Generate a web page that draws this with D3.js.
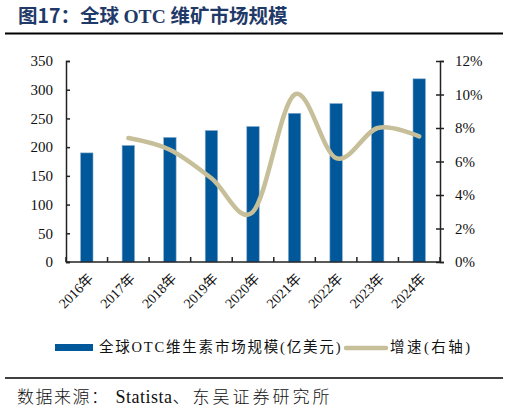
<!DOCTYPE html>
<html>
<head>
<meta charset="utf-8">
<script src="https://cdn.jsdelivr.net/npm/d3@7"></script>
<style>
  body { margin: 0; background: #fff; }
  svg text { font-family: "Liberation Serif", "Times New Roman", "Noto Sans CJK SC", serif; }
</style>
</head>
<body>
<div id="chart"></div>
<script>
// data
const years = ['2016年', '2017年', '2018年', '2019年', '2020年', '2021年', '2022年', '2023年', '2024年'];
const marketSize = [190, 203, 217, 229, 236, 259, 276, 297, 319];
const growth = [null, 7.4, 6.7, 5.0, 3.0, 10.0, 6.2, 8.0, 7.5];
const leftTicks = [0, 50, 100, 150, 200, 250, 300, 350];
const rightTicks = [0, 2, 4, 6, 8, 10, 12];

function renderChart(containerId) {
    const container = d3.select(`#${containerId}`);
    container.selectAll('*').remove();

    const W = 509, H = 412;
    const margin = { top: 61, right: 69, bottom: 150, left: 66 };
    const width = W - margin.left - margin.right;
    const height = H - margin.top - margin.bottom;

    const svg = container.append('svg')
        .attr('width', W)
        .attr('height', H);

    // Title + rules
    const title = svg.append('text')
        .attr('x', 18)
        .attr('y', 23)
        .attr('fill', '#1F3A68')
        .style('font-size', '19.5px')
        .style('font-weight', 'bold');
    title.append('tspan').text('图17：').style('font-family', '"Noto Sans CJK SC", sans-serif');
    title.append('tspan').text('全球 ').style('font-family', '"Noto Sans CJK SC", sans-serif');
    title.append('tspan').text('OTC ').style('font-family', '"Liberation Serif", serif');
    title.append('tspan').text('维矿市场规模').style('font-family', '"Noto Sans CJK SC", sans-serif');

    svg.append('line')
        .attr('x1', 5).attr('x2', 503)
        .attr('y1', 33.5).attr('y2', 33.5)
        .attr('stroke', '#000').attr('stroke-width', 2);
    svg.append('line')
        .attr('x1', 5).attr('x2', 503)
        .attr('y1', 378).attr('y2', 378)
        .attr('stroke', '#000').attr('stroke-width', 1.5);

    const src = svg.append('text')
        .attr('x', 17)
        .attr('y', 403)
        .style('font-size', '17px')
        .attr('fill', '#111');
    src.append('tspan').text('数据来源：').style('font-family', '"Noto Sans CJK SC", sans-serif')
        .style('font-weight', '300').style('letter-spacing', '1.5px');
    src.append('tspan').text('Statista').attr('dx', 6).style('font-family', '"Liberation Serif", serif')
        .style('font-size', '18px').style('letter-spacing', '0.5px');
    src.append('tspan').text('、东吴证券研究所').style('font-family', '"Noto Sans CJK SC", sans-serif')
        .style('font-weight', '300').style('letter-spacing', '3px');

    const g = svg.append('g')
        .attr('transform', `translate(${margin.left},${margin.top})`);

    const x = d3.scaleBand()
        .domain(years)
        .range([0, width])
        .paddingInner(0.7)
        .paddingOuter(0.35);

    const y = d3.scaleLinear().domain([0, 350]).range([height, 0]);
    const y2 = d3.scaleLinear().domain([0, 12]).range([height, 0]);

    // Bars
    g.selectAll('.bar')
        .data(marketSize)
        .enter()
        .append('rect')
        .attr('class', 'bar')
        .attr('x', (d, i) => x(years[i]))
        .attr('y', d => y(d))
        .attr('width', x.bandwidth())
        .attr('height', d => height - y(d))
        .attr('fill', '#00589B')
        .attr('stroke', '#8FB0CF')
        .attr('stroke-width', 0.6);

    // Left axis
    const leftAxis = g.append('g')
        .call(d3.axisLeft(y).tickValues(leftTicks).tickSize(-4).tickPadding(13));
    leftAxis.select('.domain').attr('stroke', '#222').attr('stroke-width', 1.5);
    leftAxis.selectAll('.tick line').attr('stroke', '#222').attr('stroke-width', 1.5);
    leftAxis.selectAll('text').style('font-size', '15px').attr('fill', '#111');

    // Right axis
    const rightAxis = g.append('g')
        .attr('transform', `translate(${width},0)`)
        .call(d3.axisRight(y2).tickValues(rightTicks).tickSize(4).tickPadding(11)
            .tickFormat(d => d + '%'));
    rightAxis.select('.domain').attr('stroke', '#222').attr('stroke-width', 1.5);
    rightAxis.selectAll('.tick line').attr('x1', -4).attr('stroke', '#222').attr('stroke-width', 1.5);
    rightAxis.selectAll('text').style('font-size', '15px').attr('fill', '#111');

    // Bottom axis: ticks between categories, pointing up
    const boundaries = d3.range(years.length + 1).map(i => i * width / years.length);
    const bottom = g.append('g').attr('transform', `translate(0,${height})`);
    bottom.append('line')
        .attr('x1', 0).attr('x2', width)
        .attr('stroke', '#222').attr('stroke-width', 1.5);
    bottom.selectAll('.xtick')
        .data(boundaries)
        .enter()
        .append('line')
        .attr('x1', d => d).attr('x2', d => d)
        .attr('y1', 0).attr('y2', -5)
        .attr('stroke', '#222').attr('stroke-width', 1.5);
    bottom.selectAll('.xlabel')
        .data(years)
        .enter()
        .append('text')
        .attr('transform', d => `translate(${x(d) + x.bandwidth() / 2 + 4},${14}) rotate(-45)`)
        .attr('text-anchor', 'end')
        .attr('dy', '0.35em')
        .style('font-size', '14px')
        .attr('fill', '#111')
        .text(d => d);

    // Growth line (smoothed), starts at 2017
    const pts = growth.map((d, i) => ({ v: d, i })).filter(d => d.v != null);
    g.append('path')
        .datum(pts)
        .attr('d', d3.line()
            .x(d => x(years[d.i]) + x.bandwidth() / 2)
            .y(d => y2(d.v))
            .curve(d3.curveCardinal.tension(0)))
        .attr('fill', 'none')
        .attr('stroke', '#C7BF99')
        .attr('stroke-width', 4.5)
        .attr('stroke-linecap', 'round');

    // Legend
    const lg = svg.append('g').attr('transform', 'translate(0,347)');
    lg.append('rect')
        .attr('x', 55).attr('y', -3)
        .attr('width', 38).attr('height', 7)
        .attr('fill', '#00589B');
    lg.append('text')
        .attr('x', 99).attr('y', 0)
        .attr('dy', '0.35em')
        .style('font-size', '14.5px')
        .style('letter-spacing', '1.8px')
        .attr('fill', '#111')
        .text('全球OTC维生素市场规模(亿美元)');
    lg.append('line')
        .attr('x1', 346).attr('x2', 386)
        .attr('y1', 1).attr('y2', 1)
        .attr('stroke', '#C7BF99')
        .attr('stroke-width', 4.5)
        .attr('stroke-linecap', 'round');
    lg.append('text')
        .attr('x', 390).attr('y', 0)
        .attr('dy', '0.35em')
        .style('font-size', '14.5px')
        .style('letter-spacing', '2.5px')
        .attr('fill', '#111')
        .text('增速(右轴)');
}

renderChart('chart');
</script>
</body>
</html>
